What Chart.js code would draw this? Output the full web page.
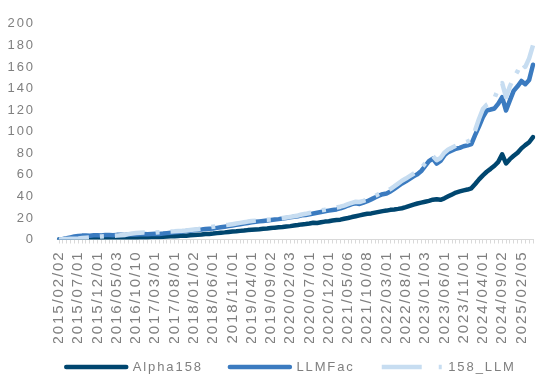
<!DOCTYPE html>
<html>
<head>
<meta charset="utf-8">
<script src="https://cdn.jsdelivr.net/npm/chart.js@4/dist/chart.umd.min.js"></script>
<style>
  html, body { margin: 0; padding: 0; background: #ffffff; }
  #wrap { width: 558px; height: 381px; }
</style>
</head>
<body>
<div id="wrap"><canvas id="c" width="558" height="381"></canvas></div>
<script>
// ---- data (monthly, first trading day) ----
const tickLabels = [
  "2015/02/02","2015/07/01","2015/12/01","2016/05/03","2016/10/10",
  "2017/03/01","2017/08/01","2018/01/02","2018/06/01","2018/11/01",
  "2019/04/01","2019/09/02","2020/02/03","2020/07/01","2020/12/01",
  "2021/05/06","2021/10/08","2022/03/01","2022/08/01","2023/01/03",
  "2023/06/01","2023/11/01","2024/04/01","2024/09/02","2025/02/05"
];
const seriesNames = ["Alpha158", "LLMFac", "158_LLM"];

const alpha158 = [
  0, 0.2, -0.3, 0.3, 0.1, 0.4, -0.2, -0.5, 0.2, 0.5,
  0.6, 0.4, 0.8, 0.7, 1.0, 0.9, 1.2, 1.1, 1.4, 1.6,
  1.5, 1.8, 2.0, 1.9, 2.2, 2.4, 2.3, 2.6, 2.8, 3.0,
  3.1, 3.3, 3.6, 3.5, 3.9, 4.2, 4.4, 4.6, 5.0, 5.2,
  5.5, 5.9, 6.3, 6.6, 7.0, 7.4, 7.6, 8.0, 8.3, 8.7,
  9.0, 9.3, 9.6, 10.0, 10.2, 10.6, 11.0, 11.3, 11.6, 12.1,
  12.4, 12.9, 13.4, 14.0, 14.3, 14.8, 15.5, 15.3, 16.0, 16.6,
  17.0, 17.6, 18.0, 18.4, 19.2, 19.9, 20.8, 21.6, 22.4, 23.2,
  23.8, 24.2, 24.9, 25.6, 26.3, 26.8, 27.5, 27.9, 28.4, 29.0,
  30.0, 31.2, 32.4, 33.4, 34.2, 35.0, 35.8, 36.9, 37.4, 36.8,
  38.2, 40.0, 41.8, 43.5, 44.6, 45.5, 46.3, 47.5, 51.5, 55.8,
  59.5, 62.8, 65.5, 68.4, 72.0, 79.0, 70.5, 74.5, 77.6, 80.4,
  84.5, 87.5, 90.2, 95.0
];
const llmFac = [
  0, 0.5, 1.2, 2.0, 2.8, 3.3, 3.6, 3.8, 3.5, 3.9,
  4.0, 3.8, 4.2, 4.1, 3.9, 4.3, 4.5, 4.2, 4.6, 4.8,
  4.7, 4.9, 5.0, 4.8, 5.1, 5.3, 5.2, 5.5, 5.9, 6.3,
  6.6, 7.0, 7.3, 7.8, 8.2, 8.6, 9.0, 9.3, 9.7, 10.0,
  10.2, 10.8, 11.4, 11.9, 12.4, 13.0, 13.6, 14.1, 14.7, 15.3,
  15.9, 16.4, 16.8, 17.2, 17.6, 18.0, 18.5, 18.9, 19.4, 20.0,
  20.5, 21.0, 21.6, 22.4, 22.7, 23.3, 24.1, 24.8, 25.5, 26.2,
  26.8, 27.4, 27.9, 28.8, 30.1, 31.5, 32.8, 33.6, 33.0, 34.2,
  35.5, 37.2, 39.0, 40.6, 42.0, 42.7, 44.5, 47.0, 49.5, 52.0,
  54.0, 56.3, 58.6, 60.5, 63.5, 68.0, 72.6, 75.0, 70.4, 72.8,
  78.0, 81.0, 82.6, 84.2, 85.0, 86.5, 87.3, 88.5, 97.0, 105.0,
  113.4, 119.6, 120.5, 121.5, 126.0, 132.0, 119.6, 129.0, 138.0, 142.0,
  147.0, 144.0, 148.0, 162.0
];
const llm158 = [
  0, 0.2, 0.4, 0.6, 0.8, 1.0, 1.3, 1.6, 1.9, 2.2,
  2.5, 2.8, 3.0, 3.2, 3.4, 3.6, 3.9, 4.2, 5.0, 5.6,
  6.0, 6.3, 6.5, 6.2, 6.6, 6.4, 6.8, 7.0, 7.2, 7.4,
  7.6, 7.9, 8.1, 8.4, 8.8, 9.2, 9.6, 10.0, 10.6, 11.2,
  11.8, 12.3, 12.8, 13.2, 13.6, 14.2, 14.8, 15.4, 16.0, 16.6,
  17.1, 17.5, 17.9, 18.2, 18.4, 18.6, 19.0, 19.4, 19.9, 20.4,
  21.0, 21.6, 22.3, 23.2, 23.8, 24.6, 25.4, 26.2, 27.0, 27.6,
  28.3, 29.0, 29.6, 30.4, 31.5, 32.8, 34.0, 35.0, 34.8, 35.8,
  37.0, 38.6, 40.4, 42.2, 43.6, 44.8, 46.8, 49.2, 51.8, 54.5,
  56.5, 58.8, 61.0, 63.2, 66.0, 70.5, 75.0, 77.5, 73.5, 75.6,
  80.5, 83.5, 85.2, 87.0, 88.0, 89.6, 90.8, 92.5, 101.5, 112.0,
  121.0, 125.0, 127.0, 131.0, 140.0, 145.0, 132.0, 142.0, 150.0, 156.0,
  164.0, 160.0, 168.0, 180.0
];

// categories: one per month from 2015/02, labelled with the shown tick dates
const categories = [];
for (let i = 0; i < alpha158.length; i++) {
  const y = 2015 + Math.floor((1 + i) / 12);
  const m = ((1 + i) % 12) + 1;
  const key = y + "/" + String(m).padStart(2, "0");
  const hit = tickLabels.find(s => s.startsWith(key));
  categories.push(hit || key + "/01");
}

const GRAY = "#7f7f7f";
const FONT = "'Liberation Sans', Arial, sans-serif";

const spacingPlugin = {
  id: "spacing",
  beforeUpdate(chart) { chart.ctx.letterSpacing = "1.9px"; },
  beforeDraw(chart) { chart.ctx.letterSpacing = "1.9px"; },
  afterLayout(chart) {
    const lg = chart.legend;
    if (lg) {
      lg.left += 17; lg.right += 17;
      const h = lg.bottom - lg.top;
      lg.top = 333.5; lg.bottom = lg.top + h;
    }
  }
};

new Chart(document.getElementById("c"), {
  type: "line",
  data: {
    labels: categories,
    datasets: [
      { label: seriesNames[0], data: alpha158, borderColor: "#00466F", backgroundColor: "#00466F",
        borderWidth: 4.5, order: 2, borderCapStyle: "round" },
      { label: seriesNames[1], data: llmFac, borderColor: "#3B7BC0", backgroundColor: "#3B7BC0",
        borderWidth: 4.5, order: 1, borderCapStyle: "round" },
      { label: seriesNames[2], data: llm158, borderColor: "#C7DDF1", backgroundColor: "#C7DDF1",
        borderWidth: 4.5, order: 0, borderDash: [30, 11, 4, 11], borderCapStyle: "butt" }
    ]
  },
  options: {
    responsive: false,
    animation: false,
    devicePixelRatio: 1,
    layout: { padding: { left: 0, right: 10, top: 23.5, bottom: -12 } },
    elements: {
      point: { radius: 0, hoverRadius: 0 },
      line: { tension: 0, borderJoinStyle: "round" }
    },
    plugins: {
      tooltip: { enabled: false },
      legend: {
        position: "bottom",
        labels: {
          usePointStyle: true,
          pointStyle: "line",
          pointStyleWidth: 60,
          padding: 27,
          color: GRAY,
          font: { family: FONT, size: 13 },
          sort: (a, b) => a.datasetIndex - b.datasetIndex,
          generateLabels(chart) {
            const items = Chart.defaults.plugins.legend.labels.generateLabels(chart);
            items.forEach(it => {
              it.pointStyle = "line";
              it.lineWidth = 4.5;
              if (it.datasetIndex === 2) { it.lineDash = [40, 17, 5, 17]; it.lineCap = "butt"; }
              else { it.lineDash = []; it.lineCap = "round"; }
            });
            return items;
          }
        }
      }
    },
    scales: {
      x: {
        type: "category",
        offset: false,
        grid: { display: true, drawOnChartArea: false, drawTicks: true, tickLength: 4, color: "#d9d9d9" },
        border: { display: true, color: "#d9d9d9", width: 1 },
        ticks: {
          autoSkip: false,
          minRotation: 90,
          maxRotation: 90,
          padding: 7,
          color: GRAY,
          font: { family: FONT, size: 15 },
          callback: (v, i) => tickLabels.includes(categories[i]) ? categories[i] : ""
        },
        afterFit(scale) { scale.height = 103.5; }
      },
      y: {
        min: 0,
        max: 200,
        grid: { display: false },
        border: { display: false },
        ticks: { stepSize: 20, padding: 16, color: GRAY, font: { family: FONT, size: 13 } },
        afterFit(scale) { scale.width = 59; }
      }
    }
  },
  plugins: [spacingPlugin]
});
</script>
</body>
</html>
